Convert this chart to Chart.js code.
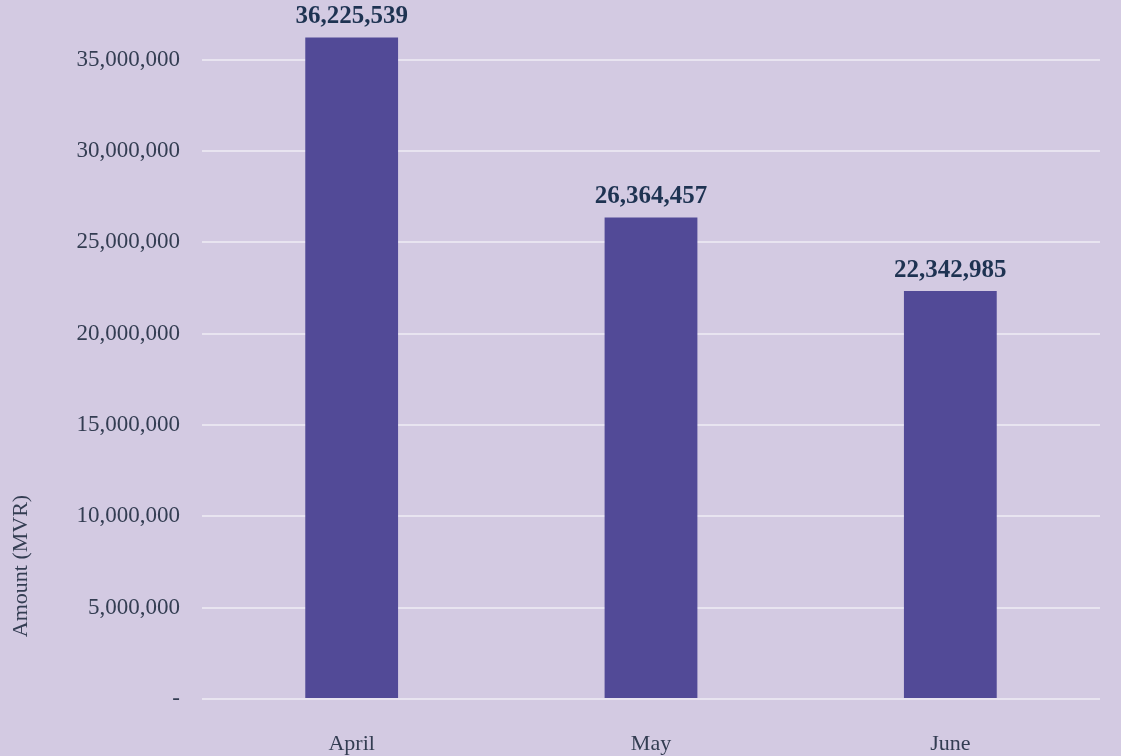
<!DOCTYPE html>
<html>
<head>
<meta charset="utf-8">
<script src="https://cdn.jsdelivr.net/npm/chart.js@4.4.0/dist/chart.umd.min.js"></script>
<style>
  html, body { margin: 0; padding: 0; background: #d3cae2; }
  #wrap { width: 1121px; height: 756px; position: relative; }
</style>
</head>
<body>
<div id="wrap"><canvas id="chart"></canvas></div>
<script>
// monthly amounts in MVR
const months = ['April', 'May', 'June'];
const amounts = [36225539, 26364457, 22342985];
const yTicks = [0, 5000000, 10000000, 15000000, 20000000, 25000000, 30000000, 35000000];
const yTitle = 'Amount (MVR)';

const fmt = v => v === 0 ? '-' : v.toLocaleString('en-US');

// value labels above each bar
const barLabels = {
    id: 'barLabels',
    afterDatasetsDraw(chart) {
        const ctx = chart.ctx;
        const meta = chart.getDatasetMeta(0);
        ctx.save();
        ctx.font = 'bold 25px "Liberation Serif"';
        ctx.fillStyle = '#1e3352';
        ctx.textAlign = 'center';
        ctx.textBaseline = 'bottom';
        meta.data.forEach((bar, i) => {
            ctx.fillText(amounts[i].toLocaleString('en-US'), bar.x, bar.y - 8);
        });
        ctx.restore();
    }
};

// rotated axis title, sits lower than the axis middle in the original
const axisTitle = {
    id: 'axisTitle',
    afterDraw(chart) {
        const ctx = chart.ctx;
        ctx.save();
        ctx.translate(21, 566);
        ctx.rotate(-Math.PI / 2);
        ctx.font = '22px "Liberation Serif"';
        ctx.fillStyle = '#333d52';
        ctx.textAlign = 'center';
        ctx.textBaseline = 'middle';
        ctx.fillText(yTitle, 0, 0);
        ctx.restore();
    }
};

new Chart(document.getElementById('chart'), {
    type: 'bar',
    data: {
        labels: months,
        datasets: [{
            data: amounts,
            backgroundColor: '#524a97',
            barPercentage: 0.31,
            categoryPercentage: 1
        }]
    },
    options: {
        responsive: true,
        maintainAspectRatio: false,
        animation: false,
        layout: { padding: { top: 5, right: 21, left: 0, bottom: 0 } },
        plugins: {
            legend: { display: false },
            tooltip: { enabled: false }
        },
        scales: {
            x: {
                grid: { display: false },
                border: { display: false },
                ticks: {
                    color: '#333d52',
                    font: { family: 'Liberation Serif', size: 22 },
                    padding: 24
                },
                afterFit(scale) { scale.height = 57; }
            },
            y: {
                min: 0,
                max: 38000000,
                border: { display: false },
                grid: { color: '#e8e4f0', lineWidth: 2, drawTicks: false },
                afterBuildTicks(scale) {
                    scale.ticks = yTicks.map(v => ({ value: v }));
                },
                ticks: {
                    color: '#333d52',
                    font: { family: 'Liberation Serif', size: 23 },
                    padding: 22,
                    callback: v => fmt(v)
                },
                afterFit(scale) {
                    scale.width = 202;
                    scale.paddingTop = 0;
                    scale.paddingBottom = 0;
                }
            }
        }
    },
    plugins: [barLabels, axisTitle]
});
</script>
</body>
</html>
